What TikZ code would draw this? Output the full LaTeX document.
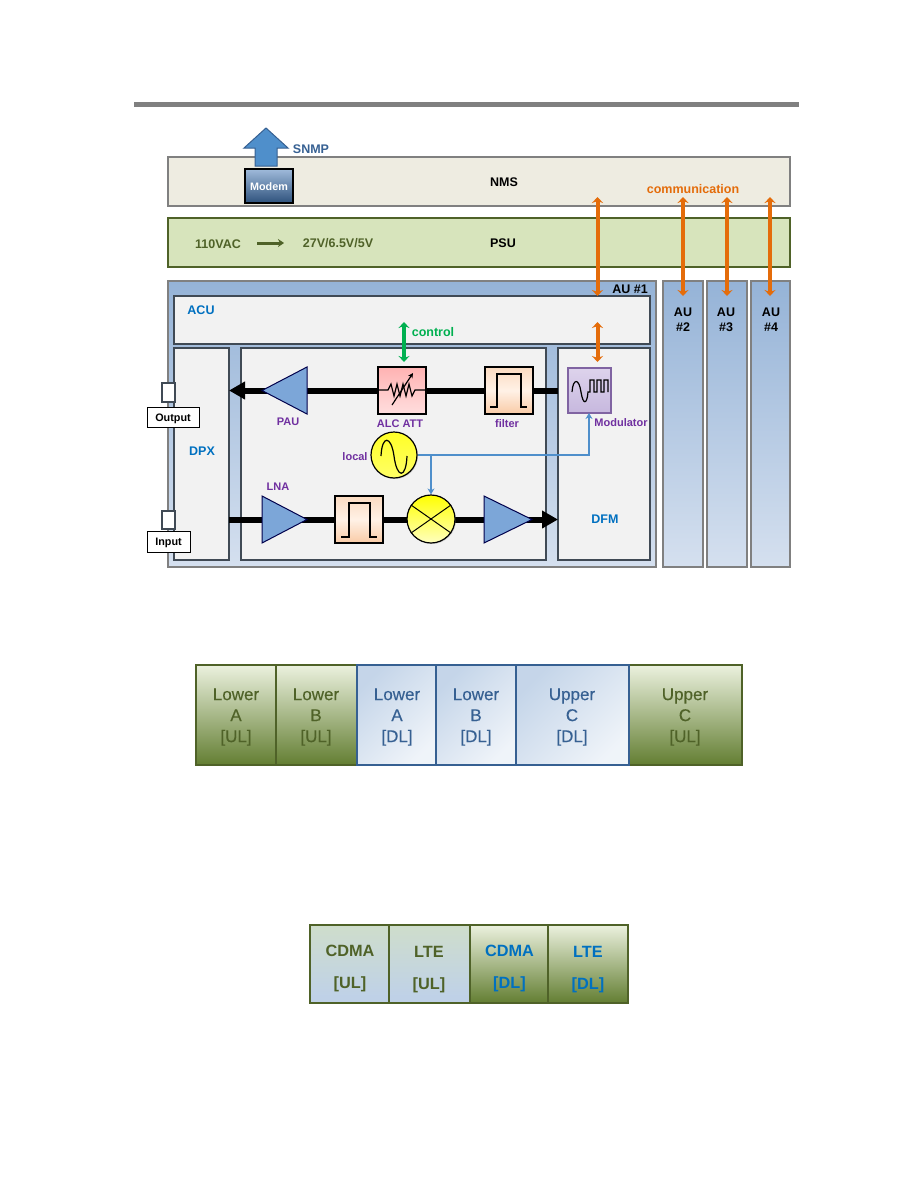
\documentclass[tikz,border=0pt]{standalone}
\usepackage{fontspec}
\setmainfont{Liberation Sans}
\usetikzlibrary{arrows.meta,shadows}
\definecolor{rulegray}{HTML}{808080}
\definecolor{nmsfill}{HTML}{EEECE1}
\definecolor{psufill}{HTML}{D7E4BC}
\definecolor{darkolive}{HTML}{4F6228}
\definecolor{aublue}{HTML}{95B3D7}
\definecolor{aulight}{HTML}{D5E0EF}
\definecolor{panelgray}{HTML}{F2F2F2}
\definecolor{paneledge}{HTML}{404A55}
\definecolor{labelblue}{HTML}{0070C0}
\definecolor{labelpurple}{HTML}{7030A0}
\definecolor{commorange}{HTML}{E46C0A}
\definecolor{ctrlgreen}{HTML}{00B050}
\definecolor{snmpblue}{HTML}{366092}
\definecolor{ampblue}{HTML}{7CA6D8}
\definecolor{wireblue}{HTML}{4F8FCB}
\definecolor{bandgreen}{HTML}{637E32}
\definecolor{bandtop}{HTML}{EBF1DE}
\definecolor{filterpeach}{HTML}{F9CBA6}
\definecolor{filterpale}{HTML}{FFF1E6}
\definecolor{modtop}{HTML}{DDD3EC}
\definecolor{modbottom}{HTML}{C7B8DE}
\definecolor{modedge}{HTML}{8064A2}
\tikzset{>=Stealth,
  wh/.style 2 args={minimum width=#1pt,minimum height=#2pt,anchor=north west,inner sep=0pt,outer sep=0pt},
  lab/.style={font=\fontsize{12.5}{15}\selectfont\bfseries,inner sep=0pt,align=center},
  smalllab/.style={font=\fontsize{11}{13}\selectfont\bfseries,text=labelpurple,inner sep=0pt},
  panel/.style={draw=paneledge,line width=1.3pt,fill=panelgray},
  aubox/.style={draw=rulegray,line width=1.5pt,top color=aublue,bottom color=aulight},
  part/.style={draw=black,line width=1.2pt,drop shadow={shadow xshift=1pt,shadow yshift=-1pt,opacity=.3}},
  filterbox/.style={part,top color=filterpeach!70!white,bottom color=filterpeach,middle color=filterpale},
  tag/.style={draw=black,line width=.8pt,fill=white,font=\fontsize{10.8}{13}\selectfont\bfseries,text height=8pt,text depth=0pt},
  portbox/.style={draw=paneledge,line width=1.2pt,fill=white},
  ampshape/.style={draw=black!70!blue,line width=1pt,fill=ampblue},
  sigline/.style={line width=6pt,-{Triangle[length=16pt,width=17pt]}},
  commarrow/.style={<->,commorange,line width=4pt,>={Stealth[length=6pt,width=11pt]}},
  wire/.style={->,wireblue,line width=1.4pt,>={Stealth[length=6pt,width=7pt]}},
  glyph/.style={line width=1.2pt,black},
  greenband/.style={draw=darkolive,line width=2pt,top color=bandtop,bottom color=bandgreen},
  blueband/.style={draw=snmpblue,line width=2pt,bottom color=aublue!15!white,top color=aublue!55!white,shading angle=45},
  bandtext/.style={align=center,inner sep=0pt,font=\fontsize{17}{21}\selectfont\addfontfeature{FakeBold=0.3}},
  tdband/.style={draw=darkolive,line width=2pt},
  tdtext/.style={align=center,inner sep=0pt,font=\fontsize{16.3}{32}\selectfont\bfseries}
}
\pgfdeclareverticalshading{ulband}{100bp}{color(0bp)=(labelblue!45!white);color(5bp)=(aublue!60!white);color(30bp)=(aublue!60!white);color(100bp)=(psufill)}
\begin{document}
\begin{tikzpicture}[x=1pt,y=-1pt]
\useasboundingbox (0,0) rectangle (918,1188);
\fill[rulegray] (134,102) rectangle (799,107);
\node[wh={622}{49},draw=rulegray,line width=1.5pt,fill=nmsfill] (nms) at (168,157) {};
\node[wh={622}{49},draw=darkolive,line width=1.5pt,fill=psufill] (psu) at (168,218) {};
\node[wh={488}{286},aubox] (au1) at (168,281) {};
\node[wh={40}{286},aubox] (au2) at (663,281) {};
\node[wh={40}{286},aubox] (au3) at (707,281) {};
\node[wh={39}{286},aubox] (au4) at (751,281) {};
\node[wh={476}{48},panel] (acu) at (174,296) {};
\node[wh={55}{212},panel] (dpx) at (174,348) {};
\node[wh={305}{212},panel] (rfpanel) at (241,348) {};
\node[wh={92}{212},panel] (dfm) at (558,348) {};
\node[wh={13}{19},portbox] (outport) at (162,383) {};
\node[wh={13}{18},portbox] (inport) at (162,511) {};
\node[wh={52}{20},tag] (outtag) at (147,407) {Output};
\node[wh={43}{21},tag] (intag) at (147,531) {Input};
\node[lab] (nmstext) at (504,182) {NMS};
\node[lab] (psutext) at (503,243) {PSU};
\node[lab,text=darkolive] (acin) at (218,244) {110VAC};
\node[lab,text=darkolive] (dcout) at (338,243) {27V/6.5V/5V};
\coordinate (acarrowA) at (257,243);
\coordinate (acarrowB) at (284,243);
\draw[->,darkolive,line width=3pt,>={Stealth[length=6pt,width=8pt]}] (acarrowA) -- (acarrowB);
\node[lab,text=snmpblue] (snmptext) at (311,149) {SNMP};
\node[lab,text=commorange] (commtext) at (693,189) {communication};
\node[lab] (au1text) at (630,289) {AU \#1};
\node[lab] (au2text) at (683,319.5) {AU\\\#2};
\node[lab] (au3text) at (726,319.5) {AU\\\#3};
\node[lab] (au4text) at (771,319.5) {AU\\\#4};
\node[lab,text=labelblue] (acutext) at (201,310) {ACU};
\node[lab,text=labelblue] (dpxtext) at (202,451) {DPX};
\node[lab,text=labelblue] (dfmtext) at (605,519) {DFM};
\node[lab,text=ctrlgreen] (ctrltext) at (433,332) {control};
\draw[fill=wireblue,draw=snmpblue,line width=1pt] (255,166) -- (255,148) -- (244,148) -- (266,128) -- (288,148) -- (277,148) -- (277,166) -- cycle;
\node[wh={48}{34},part,top color=aublue!90!white,bottom color=snmpblue!85!black,text=white,font=\fontsize{10.8}{13}\selectfont\bfseries,text height=8pt,text depth=0pt] (modem) at (245,169) {Modem};
\coordinate (uprow) at (0,390.5);
\coordinate (dnrow) at (0,519.5);
\draw[sigline] (dfm.west |- uprow) -- (dpx.east |- uprow);
\draw[sigline] (dpx.east |- dnrow) -- (dfm.west |- dnrow);
\node[wh={48}{47},filterbox] (ulfilter) at (485,367) {};
\node[wh={48}{47},part,top color=red!30!white,bottom color=red!13!white] (alc) at (378,367) {};
\node[wh={43}{45},part,draw=modedge,top color=modtop,bottom color=modbottom] (modbox) at (568,368) {};
\node[wh={48}{47},filterbox] (dlfilter) at (335,496) {};
\node[circle,minimum size=46pt,inner sep=0pt,part,top color=yellow!85!white,bottom color=yellow!60!white] (local) at (394,455) {};
\node[circle,minimum size=48pt,inner sep=0pt,part,top color=yellow,bottom color=yellow!25!white] (mixer) at (431,519) {};
\draw[ampshape] (262,390.5) -- (307,367) -- (307,414) -- cycle;
\draw[ampshape] (262,496) -- (307,519.5) -- (262,543) -- cycle;
\draw[ampshape] (484,496) -- (532,519.5) -- (484,543) -- cycle;
\draw[glyph] (490,407) -- (497,407) -- (497,374) -- (521,374) -- (521,407) -- (527,407);
\draw[glyph] (341,537) -- (349,537) -- (349,503) -- (370,503) -- (370,537) -- (377,537);
\draw[glyph] (378,390) -- (388,390) -- (391,384) -- (394,396) -- (397,384) -- (400,396) -- (403,384) -- (406,396) -- (409,384) -- (412,396) -- (415,390) -- (426,390);
\draw[glyph,->,>={Stealth[length=5pt,width=5pt]}] (392,405) -- (413,373);
\draw[glyph] (381,456) .. controls (382,435) and (391,435) .. (394,456) .. controls (397,479) and (406,479) .. (407,456);
\draw[glyph] (572,392) .. controls (573,378) and (579,378) .. (581,392) .. controls (583,405) and (587,405) .. (588,392) -- (590,392) -- (590,380) -- (594,380) -- (594,392) -- (597,392) -- (597,380) -- (601,380) -- (601,392) -- (604,392) -- (604,380) -- (608,380) -- (608,392);
\draw[black,line width=1pt] (mixer.145) -- (mixer.-35);
\draw[black,line width=1pt] (mixer.35) -- (mixer.-145);
\coordinate (commA) at (597.5,197);
\coordinate (commB) at (683,197);
\coordinate (commC) at (727,197);
\coordinate (commD) at (770,197);
\draw[commarrow] (commA) -- (acu.north -| commA);
\draw[commarrow] (commB) -- (acu.north -| commB);
\draw[commarrow] (commC) -- (acu.north -| commC);
\draw[commarrow] (commD) -- (acu.north -| commD);
\coordinate (ctrlA) at (404,322);
\coordinate (ctrlAend) at (404,362);
\coordinate (ctrlB) at (597.5,322);
\coordinate (ctrlBend) at (597.5,362);
\draw[commarrow,ctrlgreen] (ctrlA) -- (ctrlAend);
\draw[commarrow] (ctrlB) -- (ctrlBend);
\coordinate (wirebend) at (589,455);
\draw[wire] (local.east) -- (wirebend) -- (modbox.south -| wirebend);
\draw[wire] (mixer.north |- local.east) -- (mixer.north);
\node[smalllab] (pautext) at (288,422) {PAU};
\node[smalllab] (alctext) at (400,424) {ALC ATT};
\node[smalllab] (filtertext) at (507,424) {filter};
\node[smalllab] (modtext) at (621,423) {Modulator};
\node[smalllab] (localtext) at (355,457) {local};
\node[smalllab] (lnatext) at (278,487) {LNA};
\node[wh={80}{100},greenband] (bandA) at (196,665) {};
\node[wh={81}{100},greenband] (bandB) at (276,665) {};
\node[wh={113}{100},greenband] (bandF) at (629,665) {};
\node[wh={79}{100},blueband] (bandC) at (357,665) {};
\node[wh={80}{100},blueband] (bandD) at (436,665) {};
\node[wh={113}{100},blueband] (bandE) at (516,665) {};
\node[bandtext,text=darkolive] (bandAtext) at (236,717) {Lower\\A\\{[UL]}};
\node[bandtext,text=darkolive] (bandBtext) at (316,717) {Lower\\B\\{[UL]}};
\node[bandtext,text=snmpblue] (bandCtext) at (397,717) {Lower\\A\\{[DL]}};
\node[bandtext,text=snmpblue] (bandDtext) at (476,717) {Lower\\B\\{[DL]}};
\node[bandtext,text=snmpblue] (bandEtext) at (572,717) {Upper\\C\\{[DL]}};
\node[bandtext,text=darkolive] (bandFtext) at (685,717) {Upper\\C\\{[UL]}};
\node[wh={79}{78},tdband,shading=ulband] (tdA) at (310,925) {};
\node[wh={81}{78},tdband,shading=ulband] (tdB) at (389,925) {};
\node[wh={78}{78},tdband,top color=bandtop,bottom color=bandgreen] (tdC) at (470,925) {};
\node[wh={80}{78},tdband,top color=bandtop,bottom color=bandgreen] (tdD) at (548,925) {};
\node[tdtext,text=darkolive] (tdAtext) at (350,968.5) {CDMA\\{[UL]}};
\node[tdtext,text=darkolive] (tdBtext) at (429,969.5) {LTE\\{[UL]}};
\node[tdtext,text=labelblue] (tdCtext) at (509.5,968.5) {CDMA\\{[DL]}};
\node[tdtext,text=labelblue] (tdDtext) at (588,969.5) {LTE\\{[DL]}};
\end{tikzpicture}
\end{document}
